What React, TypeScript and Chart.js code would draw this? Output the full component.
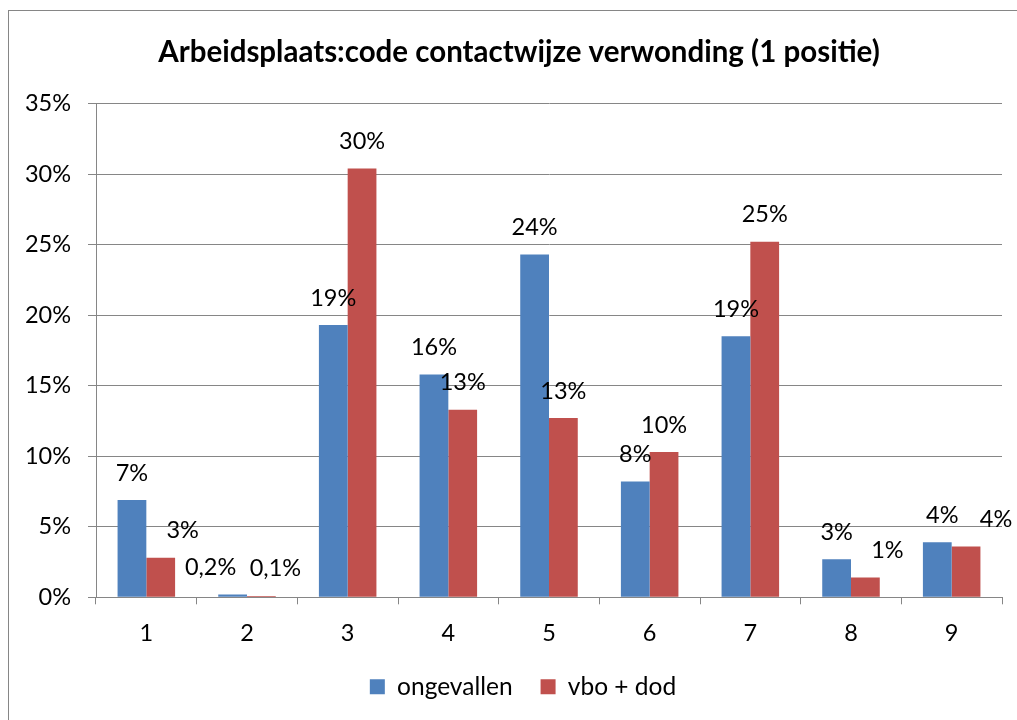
import React, { useEffect, useRef } from "react";
import { Chart, registerables } from "chart.js";

Chart.register(...registerables);

const categories = ["1", "2", "3", "4", "5", "6", "7", "8", "9"];
const ongevallen = [6.9, 0.2, 19.3, 15.8, 24.3, 8.2, 18.5, 2.7, 3.9];
const vboDod = [2.8, 0.1, 30.4, 13.3, 12.7, 10.3, 25.2, 1.4, 3.6];
const ongevallenLabels = ["7%", "0,2%", "19%", "16%", "24%", "8%", "19%", "3%", "4%"];
const vboDodLabels = ["3%", "0,1%", "30%", "13%", "13%", "10%", "25%", "1%", "4%"];
const yTicks = [0, 5, 10, 15, 20, 25, 30, 35];

const FONT = "Lato, 'Open Sans', sans-serif";
const GRID = "#868686";

const valueLabelPlugin = {
  id: "valueLabels",
  afterDatasetsDraw(chart: any) {
    const ctx = chart.ctx;
    const texts = [ongevallenLabels, vboDodLabels];
    // small horizontal nudges Excel applied to avoid overlaps: [dataset][index]
    const nudge: Record<string, number> = { "1-0": 22, "0-1": -22, "1-1": 14, "1-7": 22, "0-8": 5, "1-8": 30 };
    ctx.save();
    ctx.font = `23.5px ${FONT}`;
    ctx.fillStyle = "#000";
    ctx.textAlign = "center";
    ctx.textBaseline = "middle";
    chart.data.datasets.forEach((_ds: any, di: number) => {
      const meta = chart.getDatasetMeta(di);
      meta.data.forEach((bar: any, i: number) => {
        const dx = nudge[`${di}-${i}`] || 0;
        ctx.fillText(texts[di][i], bar.x + dx, bar.y - 27);
      });
    });
    ctx.restore();
  },
};

const borderPlugin = {
  id: "outerBorder",
  afterLayout(chart: any) {
    // centre the title and legend over the region Excel used
    if (chart.titleBlock) chart.titleBlock.left = 28;
    if (chart.legend) chart.legend.left = 36;
  },
  beforeDraw(chart: any) {
    const ctx = chart.ctx;
    ctx.save();
    ctx.fillStyle = "#fff";
    ctx.fillRect(0, 0, chart.width, chart.height);
    ctx.strokeStyle = GRID;
    ctx.lineWidth = 1;
    ctx.strokeRect(0.5, 2.5, chart.width + 10, chart.height + 10);
    ctx.restore();
  },
};

export default function App() {
  const ref = useRef<HTMLCanvasElement | null>(null);
  useEffect(() => {
    if (!ref.current) return;
    const chart = new Chart(ref.current, {
      type: "bar",
      data: {
        labels: categories,
        datasets: [
          {
            label: "ongevallen",
            data: ongevallen,
            backgroundColor: "#4F81BD",
            categoryPercentage: 2 / 3.5,
            barPercentage: 1,
          },
          {
            label: "vbo + dod",
            data: vboDod,
            backgroundColor: "#C0504D",
            categoryPercentage: 2 / 3.5,
            barPercentage: 1,
          },
        ],
      },
      options: {
        animation: false,
        responsive: false,
        maintainAspectRatio: false,
        layout: { padding: { left: 0, right: 15, top: 0, bottom: 11 } },
        plugins: {
          title: {
            display: true,
            text: "Arbeidsplaats:code contactwijze verwonding (1 positie)",
            color: "#000",
            font: { family: FONT, size: 29.5, weight: "bold" },
            padding: { top: 26.3, bottom: 33.8 },
          },
          legend: {
            position: "bottom",
            labels: {
              color: "#000",
              font: { family: FONT, size: 24.5 },
              boxWidth: 15,
              boxHeight: 15,
              padding: 28,
            },
          },
          tooltip: { enabled: false },
        },
        scales: {
          x: {
            afterFit(scale: any) {
              scale.height = scale.height - 16;
            },
            grid: {
              drawOnChartArea: false,
              offset: true,
              tickLength: 7,
              color: GRID,
            },
            border: { color: GRID },
            ticks: {
              color: "#000",
              font: { family: FONT, size: 23.5 },
              padding: 15,
              maxRotation: 0,
            },
          },
          y: {
            min: 0,
            max: 35,
            afterFit(scale: any) {
              scale.width = 88;
            },
            afterBuildTicks(scale: any) {
              scale.ticks = yTicks.map((v) => ({ value: v }));
            },
            grid: { color: GRID, tickLength: 8 },
            border: { color: GRID },
            ticks: {
              color: "#000",
              font: { family: FONT, size: 23.5 },
              padding: 17,
              callback: (v: any) => `${v}%`,
            },
          },
        },
      },
      plugins: [borderPlugin, valueLabelPlugin],
    });
    return () => chart.destroy();
  }, []);
  return (
    <div style={{ position: "fixed", left: 8, top: 8, width: 1009, height: 712 }}>
      <canvas ref={ref} width={1009} height={712} style={{ display: "block" }} />
    </div>
  );
}
